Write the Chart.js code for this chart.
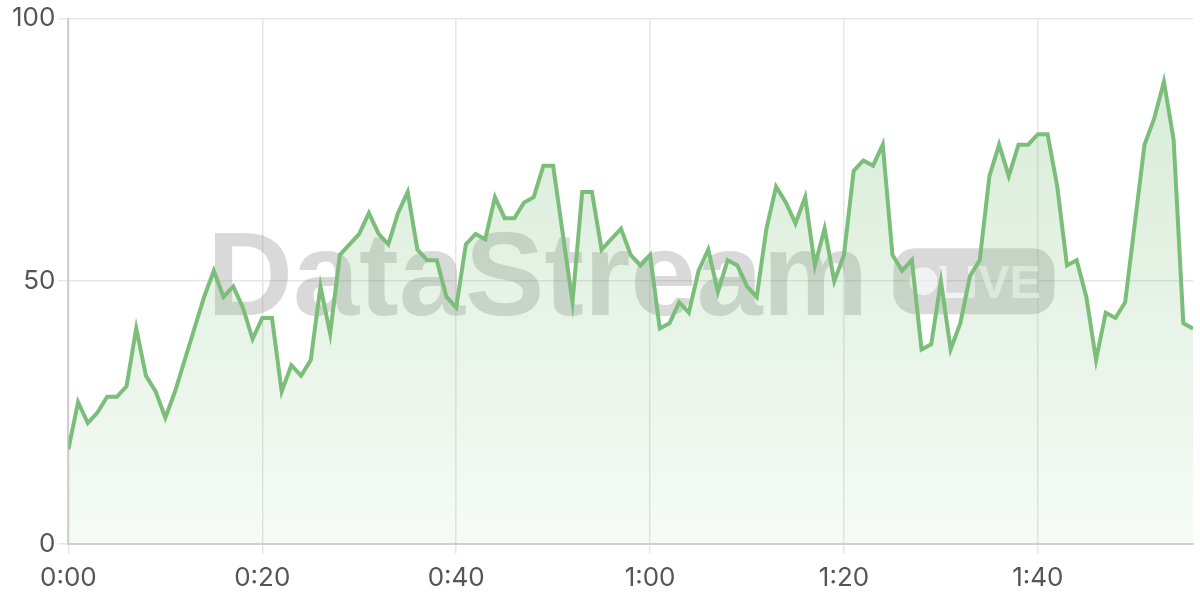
<!DOCTYPE html>
<html>
<head>
<meta charset="utf-8">
<script src="https://cdn.jsdelivr.net/npm/chart.js@4.4.1/dist/chart.umd.min.js"></script>
<style>
  html, body { margin: 0; padding: 0; background: #fff; }
  #wrap { width: 1200px; height: 600px; }
</style>
</head>
<body>
<div id="wrap"><canvas id="streamChart" width="1200" height="600"></canvas></div>
<script>
// seconds since start (one point per second)
const seconds = [];
for (let s = 0; s <= 116; s++) seconds.push(s);

// values
const values = [
  18, 27, 23, 25, 28, 28, 30, 41, 32, 29,
  24, 29, 35, 41, 47, 52, 47, 49, 45, 39,
  43, 43, 29, 34, 32, 35, 49, 40, 55, 57,
  59, 63, 59, 57, 63, 67, 56, 54, 54, 47,
  45, 57, 59, 58, 66, 62, 62, 65, 66, 72,
  72, 59, 46, 67, 67, 56, 58, 60, 55, 53,
  55, 41, 42, 46, 44, 52, 56, 48, 54, 53,
  49, 47, 60, 68, 65, 61, 66, 53, 60, 50,
  55, 71, 73, 72, 76, 55, 52, 54, 37, 38,
  50, 37, 42, 51, 54, 70, 76, 70, 76, 76,
  78, 78, 68, 53, 54, 47, 35, 44, 43, 46,
  61, 76, 81, 88, 77, 42, 41
];

const yTicks = [0, 50, 100];
const xTickStep = 20;

const points = seconds.map((s, i) => ({ x: s, y: values[i] }));

function fmtTime(s) {
  const m = Math.floor(s / 60);
  const r = s % 60;
  return m + ":" + (r < 10 ? "0" : "") + r;
}

// watermark "DataStream LIVE" drawn behind the line
const watermark = {
  id: "watermark",
  beforeDatasetsDraw(chart) {
    const { ctx, chartArea } = chart;
    const cx = (chartArea.left + chartArea.right) / 2;
    const cy = (chartArea.top + chartArea.bottom) / 2;
    ctx.save();
    ctx.font = "bold 119px 'Liberation Sans', Arial, sans-serif";
    const w1 = ctx.measureText("DataStream").width;
    const gap = 25, bw = 161, bh = 66;
    const total = w1 + gap + bw;
    const x0 = cx - total / 2;
    ctx.fillStyle = "rgba(120,120,120,0.28)";
    ctx.textBaseline = "alphabetic";
    ctx.fillText("DataStream", x0, cy + 34);

    const bx = x0 + w1 + gap, by = cy - bh / 2;
    ctx.beginPath();
    ctx.roundRect(bx, by, bw, bh, 22);
    ctx.fill();

    ctx.fillStyle = "rgba(255,255,255,0.65)";
    ctx.beginPath();
    ctx.arc(bx + 30, cy, 14, 0, Math.PI * 2);
    ctx.fill();
    ctx.font = "bold 47px 'Liberation Sans', Arial, sans-serif";
    ctx.fillText("LIVE", bx + 43, cy + 17);
    ctx.restore();
  }
};

const ctx = document.getElementById("streamChart").getContext("2d");

new Chart(ctx, {
  type: "line",
  data: {
    datasets: [{
      data: points,
      borderColor: "rgb(122,190,122)",
      borderWidth: 4,
      pointRadius: 0,
      tension: 0,
      fill: "origin",
      backgroundColor(c) {
        const area = c.chart.chartArea;
        if (!area) return "rgba(122,190,122,0.15)";
        const g = c.chart.ctx.createLinearGradient(0, area.top, 0, area.bottom);
        g.addColorStop(0, "rgba(122,190,122,0.32)");
        g.addColorStop(1, "rgba(122,190,122,0.07)");
        return g;
      }
    }]
  },
  options: {
    responsive: false,
    animation: false,
    layout: { padding: { left: 9, right: 7, top: 5, bottom: -3 } },
    plugins: {
      legend: { display: false },
      tooltip: { enabled: false }
    },
    scales: {
      x: {
        type: "linear",
        min: 0,
        max: 116,
        afterBuildTicks(scale) {
          scale.ticks = scale.ticks.filter(t => t.value % xTickStep === 0);
        },
        ticks: {
          stepSize: xTickStep,
          maxRotation: 0,
          color: "#555",
          padding: 9,
          font: { family: "Inter, 'Noto Sans', sans-serif", size: 26 },
          callback: v => fmtTime(v)
        },
        grid: { color: "#e6e6e6", lineWidth: 1.5, tickLength: 10 },
        border: { color: "#d0d0d0", width: 2 }
      },
      y: {
        min: 0,
        max: 100,
        afterBuildTicks(scale) {
          scale.ticks = yTicks.map(v => ({ value: v }));
        },
        ticks: {
          color: "#555",
          padding: 3,
          font: { family: "Inter, 'Noto Sans', sans-serif", size: 26 },
          callback: v => v
        },
        grid: { color: "#e6e6e6", lineWidth: 1.5, tickLength: 10 },
        border: { color: "#d0d0d0", width: 2 }
      }
    }
  },
  plugins: [watermark]
});
</script>
</body>
</html>
